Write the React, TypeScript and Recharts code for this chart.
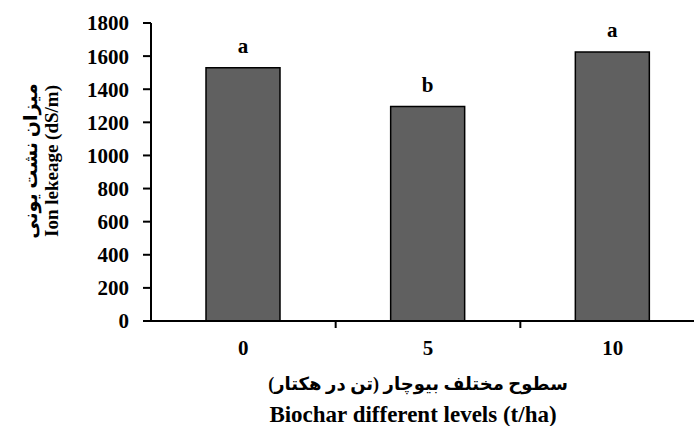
import { BarChart, Bar, XAxis, YAxis, LabelList, Label } from "recharts";

const levels = ["0", "5", "10"];
const ionLeakage = [1530, 1295, 1625];
const letters = ["a", "b", "a"];
const yTicks = [0, 200, 400, 600, 800, 1000, 1200, 1400, 1600, 1800];

const yTitleFa = "میزان نشت یونی";
const yTitleEn = "Ion lekeage (dS/m)";
const xTitleFa = "سطوح مختلف بیوچار (تن در هکتار)";
const xTitleEn = "Biochar different levels (t/ha)";

const data = levels.map((level, i) => ({
  level,
  value: ionLeakage[i],
  letter: letters[i],
}));

const FONT = '"Times New Roman", "Liberation Serif", "DejaVu Sans", serif';
const TICK = 7;
const TICK_GAP = 2;

// category label + boundary tick mark (Excel style ticks between bars)
const XTick = (props: any) => {
  const { x, y, payload } = props;
  const off = payload && payload.offset ? payload.offset : 92;
  const axisY = y - TICK - TICK_GAP;
  return (
    <g>
      <line
        x1={x + off}
        x2={x + off}
        y1={axisY}
        y2={axisY + TICK}
        stroke="#000"
        strokeWidth={2}
      />
      <text
        x={x}
        y={y + 25}
        textAnchor="middle"
        fontFamily={FONT}
        fontWeight="bold"
        fontSize={21}
        fill="#000"
      >
        {payload.value}
      </text>
    </g>
  );
};

const LetterLabel = (props: any) => {
  const { x, y, width, value } = props;
  return (
    <text
      x={x + width / 2}
      y={y - 15}
      textAnchor="middle"
      fontFamily={FONT}
      fontWeight="bold"
      fontSize={21}
      fill="#000"
    >
      {value}
    </text>
  );
};

const YTitle = () => (
  <g fontFamily={FONT} fontWeight="bold" fill="#000">
    <text
      x={30}
      y={161}
      transform="rotate(-90, 30, 161)"
      textAnchor="middle"
      dominantBaseline="central"
      fontSize={19}
    >
      {yTitleFa}
    </text>
    <text
      x={51}
      y={161}
      transform="rotate(-90, 51, 161)"
      textAnchor="middle"
      dominantBaseline="central"
      fontSize={19}
    >
      {yTitleEn}
    </text>
  </g>
);

const XTitle = () => (
  <g fontFamily={FONT} fontWeight="bold" fill="#000">
    <text x={418} y={384} textAnchor="middle" dominantBaseline="central" fontSize={18}>
      {xTitleFa}
    </text>
    <text x={413} y={414} textAnchor="middle" dominantBaseline="central" fontSize={23}>
      {xTitleEn}
    </text>
  </g>
);

export default function App() {
  return (
    <div
      style={{
        position: "absolute",
        left: 0,
        top: 0,
        width: 694,
        height: 426,
        overflow: "hidden",
        background: "#fff",
      }}
    >
      <BarChart
        width={720}
        height={426}
        data={data}
        margin={{ top: 23, right: 15, bottom: 65, left: 0 }}
      >
        <XAxis
          dataKey="level"
          height={40}
          tickSize={TICK}
          tickMargin={TICK_GAP}
          tickLine={false}
          axisLine={{ stroke: "#000", strokeWidth: 2 }}
          tick={<XTick />}
          interval={0}
        >
          <Label content={<XTitle />} />
        </XAxis>
        <YAxis
          width={151}
          domain={[0, 1800]}
          ticks={yTicks}
          interval={0}
          tickSize={8}
          tickMargin={14}
          axisLine={{ stroke: "#000", strokeWidth: 2 }}
          tickLine={{ stroke: "#000", strokeWidth: 2 }}
          tick={{ fill: "#000", fontFamily: FONT, fontWeight: "bold", fontSize: 21 }}
        >
          <Label content={<YTitle />} />
        </YAxis>
        <Bar
          dataKey="value"
          fill="#606060"
          stroke="#000"
          strokeWidth={1.5}
          barSize={74}
          isAnimationActive={false}
        >
          <LabelList dataKey="letter" content={<LetterLabel />} />
        </Bar>
      </BarChart>
    </div>
  );
}
